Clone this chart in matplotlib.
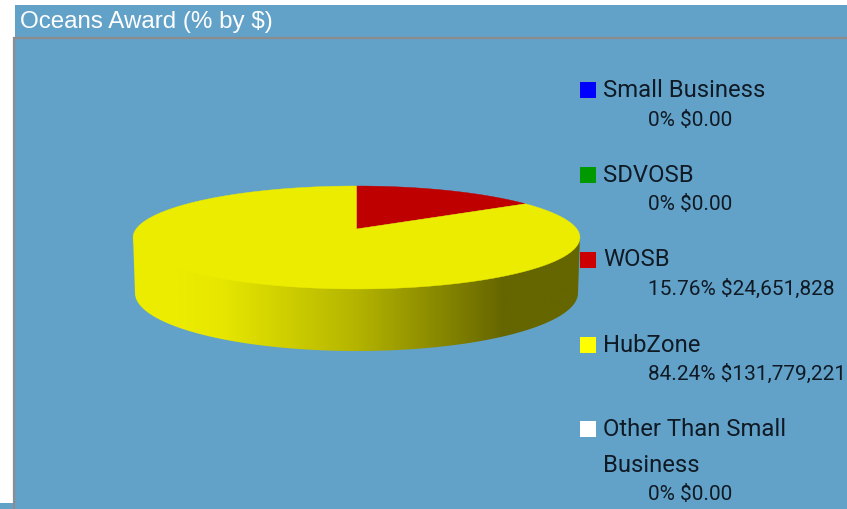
import numpy as np
import matplotlib
matplotlib.use('Agg')
import matplotlib.pyplot as plt
from matplotlib.colors import LinearSegmentedColormap
from matplotlib.patches import Polygon, Rectangle

title = 'Oceans Award (% by $)'
categories = ['Small Business', 'SDVOSB', 'WOSB', 'HubZone', 'Other Than Small\nBusiness']
percents = [0, 0, 15.76, 84.24, 0]
amounts = ['$0.00', '$0.00', '$24,651,828', '$131,779,221', '$0.00']
percent_labels = ['0%', '0%', '15.76%', '84.24%', '0%']
key_colors = ['#0000ff', '#009900', '#cc0000', '#ffff00', '#ffffff']
top_colors = ['#0000ee', '#008f00', '#bf0000', '#ecec00', '#eeeeee']

BG = '#62a2c9'
BORDER = '#8c8c8c'
TEXT = '#101a24'

fig = plt.figure(figsize=(8.47, 5.09), dpi=100, facecolor='white')
ax = fig.add_axes([0, 0, 1, 1])
ax.set_xlim(0, 847)
ax.set_ylim(509, 0)
ax.axis('off')

# panel
ax.add_patch(Rectangle((15, 5), 832, 33, fc=BG, ec='none', zorder=1))
ax.add_patch(Rectangle((13, 39), 834, 470, fc=BG, ec='none', zorder=1))
ax.add_patch(Rectangle((0, 503), 13, 6, fc=BG, ec='none', zorder=1))
ax.plot([14, 14, 847], [509, 38, 38], color=BORDER, lw=1.6, zorder=2, solid_joinstyle='miter')
ax.text(20, 22, title, color='white', fontsize=17.4, family='Liberation Sans', va='center', ha='left', zorder=3)


def top_point(u, v):
    # circle seen in perspective, so the centre sits above the middle of the ellipse
    w = 1 + 0.165 * v
    return 356.5 + 220.4 * u / w, (229 - 12.3 * v) / w


def wedge_points(start, end):
    angles = np.radians(np.linspace(start, end, 120))
    xs, ys = top_point(np.sin(angles), np.cos(angles))
    return np.column_stack([np.r_[356.5, xs], np.r_[229, ys]])


# side wall, shaded from left to right; its upper edge runs under the top face
angles = np.radians(np.linspace(-90, 90, 200))
upper_x = 356.5 + 223.5 * np.sin(angles)
upper_y = 235 + 49 * np.cos(angles)
lower_x = 356.5 + 221.5 * np.sin(angles)
lower_y = 293 + 58 * np.cos(angles)
side = Polygon(np.column_stack([np.r_[upper_x, lower_x[::-1]], np.r_[upper_y, lower_y[::-1]]]),
               fc='none', ec='none', transform=ax.transData)
ax.add_patch(side)
shade = LinearSegmentedColormap.from_list('shade', [(0, '#ecec00'), (0.1, '#ecec00'), (0.2, '#e6e600'),
                                                     (0.49, '#b6b600'), (0.83, '#666600'), (1, '#666600')])
img = ax.imshow(np.linspace(0, 1, 448).reshape(1, -1), cmap=shade, aspect='auto',
                extent=(133, 580, 360, 230), zorder=3)
img.set_clip_path(side)
ax.set_xlim(0, 847)
ax.set_ylim(509, 0)

# top face, clockwise from 12 o'clock
start = 0
for pct, col in zip(percents, top_colors):
    if pct == 0:
        continue
    end = start + pct * 3.6
    ax.add_patch(Polygon(wedge_points(start, end), fc=col, ec=col, lw=0.3, zorder=4))
    start = end

# legend
key_y = [90, 175, 260, 345, 429]
sub_y = [120, 205, 289, 374, 494]
for i, name in enumerate(categories):
    ax.add_patch(Rectangle((580, key_y[i] - 8), 16, 16, fc=key_colors[i], ec='none', zorder=3))
    for j, line in enumerate(name.split('\n')):
        ax.text(603, key_y[i] + j * 36, line, fontsize=17.2, family='Roboto', color=TEXT,
                va='center', ha='left', zorder=3)
    ax.text(648, sub_y[i], percent_labels[i] + ' ' + amounts[i], fontsize=15, family='Roboto',
            color=TEXT, va='center', ha='left', zorder=3)

fig.savefig('out.png', dpi=100)
